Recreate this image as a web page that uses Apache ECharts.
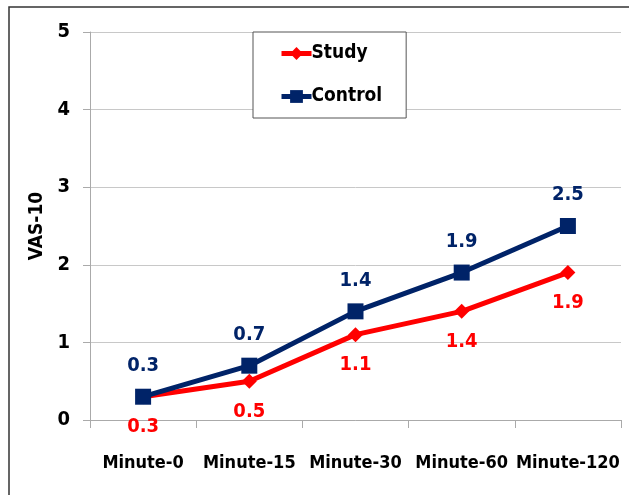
<!DOCTYPE html>
<html>
<head>
<meta charset="utf-8">
<script src="https://cdn.jsdelivr.net/npm/echarts@6/dist/echarts.min.js"></script>
<style>
html,body{margin:0;padding:0;background:#fff;}
#chart{width:629px;height:495px;}
</style>
</head>
<body>
<div id="chart"></div>
<script>
var categories = ['Minute-0', 'Minute-15', 'Minute-30', 'Minute-60', 'Minute-120'];
var studyValues = [0.3, 0.5, 1.1, 1.4, 1.9];
var controlValues = [0.3, 0.7, 1.4, 1.9, 2.5];
var yTicks = [0, 1, 2, 3, 4, 5];

var FONT = '"DejaVu Sans Condensed", "Liberation Sans Narrow", "Liberation Sans", sans-serif';
var chart = echarts.init(document.getElementById('chart'));
chart.setOption({
  animation: false,
  textStyle: { fontFamily: FONT },
  graphic: [{
    type: 'rect',
    shape: { x: 9, y: 7, width: 640, height: 500 },
    style: { fill: 'none', stroke: '#333', lineWidth: 1.5 },
    z: 100
  }],
  grid: { left: 90, right: 8, top: 32, bottom: 75 },
  legend: {
    orient: 'vertical',
    left: 253, top: 32,
    padding: [12, 24, 12, 26],
    itemGap: 24,
    itemWidth: 30, itemHeight: 16,
    borderColor: '#555', borderWidth: 1,
    backgroundColor: '#fff',
    lineStyle: { width: 5 },
    textStyle: { fontFamily: FONT, fontSize: 19, fontWeight: 'bold', color: '#000', padding: [0,0,0,-5] },
    data: ['Study', 'Control']
  },
  xAxis: {
    type: 'category',
    data: categories,
    boundaryGap: true,
    axisLine: { lineStyle: { color: '#aaa', width: 1 } },
    axisTick: { show: true, length: 8, lineStyle: { color: '#aaa' } },
    axisLabel: { interval: 0, fontFamily: FONT, fontSize: 18, fontWeight: 'bold', color: '#000', margin: 34 }
  },
  yAxis: {
    type: 'value',
    min: yTicks[0], max: yTicks[yTicks.length - 1], interval: 1,
    name: 'VAS-10',
    nameLocation: 'middle',
    nameGap: 42,
    nameTextStyle: { fontFamily: FONT, fontSize: 19, fontWeight: 'bold', color: '#000' },
    axisLine: { show: true, lineStyle: { color: '#aaa', width: 1 } },
    axisTick: { show: true, length: 7, lineStyle: { color: '#aaa' } },
    splitLine: { show: true, lineStyle: { color: '#c8c8c8', width: 1 } },
    axisLabel: { fontFamily: FONT, fontSize: 20, fontWeight: 'bold', color: '#000', margin: 20 }
  },
  series: [
    {
      name: 'Study',
      type: 'line',
      data: studyValues,
      color: '#ff0000',
      symbol: 'diamond',
      symbolSize: 15,
      lineStyle: { width: 5, color: '#ff0000' },
      itemStyle: { color: '#ff0000' },
      label: { show: true, position: 'bottom', distance: 13, fontFamily: FONT, fontSize: 20, fontWeight: 'bold', color: '#ff0000' },
      z: 2
    },
    {
      name: 'Control',
      type: 'line',
      data: controlValues,
      color: '#002368',
      symbol: 'rect',
      symbolSize: 16,
      lineStyle: { width: 5, color: '#002368' },
      itemStyle: { color: '#002368' },
      label: { show: true, position: 'top', distance: 13, fontFamily: FONT, fontSize: 20, fontWeight: 'bold', color: '#002368' },
      z: 3
    }
  ]
});
</script>
</body>
</html>
